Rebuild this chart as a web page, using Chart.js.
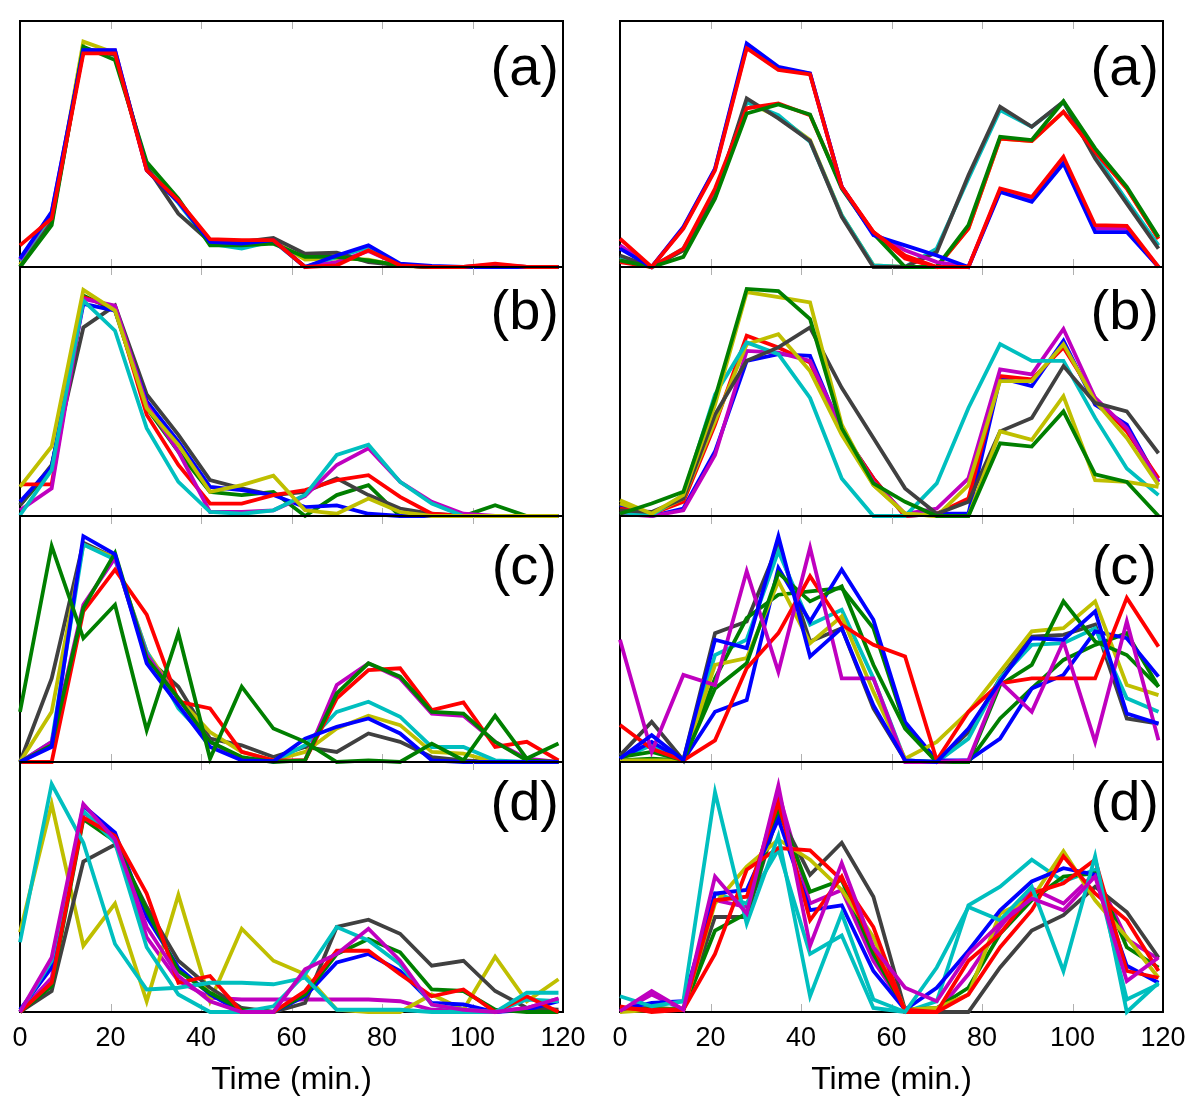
<!DOCTYPE html>
<html>
<head>
<meta charset="utf-8">
<script src="https://cdn.jsdelivr.net/npm/chart.js@4.4.1/dist/chart.umd.min.js"></script>
<style>
  html, body { margin: 0; padding: 0; background: #fff; }
  #fig { position: relative; width: 1200px; height: 1114px; overflow: hidden; }
  #fig canvas { position: absolute; }
  .tag { position: absolute; font: 56px/56px "Liberation Sans", Arial, sans-serif; color: #000; text-align: right; }
</style>
</head>
<body>
<div id="fig">
  <canvas id="aL" width="600" height="254" style="left:0;top:17px"></canvas>
  <canvas id="aR" width="600" height="254" style="left:600px;top:17px"></canvas>
  <canvas id="bL" width="600" height="257" style="left:0;top:263px"></canvas>
  <canvas id="bR" width="600" height="257" style="left:600px;top:263px"></canvas>
  <canvas id="cL" width="600" height="254" style="left:0;top:512px"></canvas>
  <canvas id="cR" width="600" height="254" style="left:600px;top:512px"></canvas>
  <canvas id="dL" width="600" height="349" style="left:0;top:758px"></canvas>
  <canvas id="dR" width="600" height="349" style="left:600px;top:758px"></canvas>
  <div class="tag" style="right:641px;top:38px">(a)</div>
  <div class="tag" style="right:41px;top:38px">(a)</div>
  <div class="tag" style="right:641px;top:282px">(b)</div>
  <div class="tag" style="right:41px;top:282px">(b)</div>
  <div class="tag" style="right:643px;top:537px">(c)</div>
  <div class="tag" style="right:43px;top:537px">(c)</div>
  <div class="tag" style="right:641px;top:773px">(d)</div>
  <div class="tag" style="right:41px;top:773px">(d)</div>
</div>
<script>
// sampling times (min.)
const times = [0, 7, 14, 21, 28, 35, 42, 49, 56, 63, 70, 77, 84, 91, 98, 105, 112, 119];
const xTicks = [0, 20, 40, 60, 80, 100, 120];

// (a) left
const aL_red     = [8.8, 19.7, 86.8, 86.8, 39.3, 27.1, 11.3, 10.9, 10.9, 0, 0.7, 6.8, 0.7, 0, 0, 1.4, 0, 0];
const aL_blue    = [3.4, 22.4, 88.2, 88.2, 39.3, 26.5, 10.2, 9.5, 10.9, 0, 4.7, 8.8, 1.4, 0.4, 0, 0, 0, 0];
const aL_green   = [0, 17, 89.6, 84.1, 42.7, 27.8, 8.8, 8.8, 9.5, 4.1, 4.1, 2.7, 0.7, 0, 0, 0, 0, 0];
const aL_gray    = [0, 18.3, 88.9, 86.1, 40.7, 21.7, 10.2, 10.2, 11.8, 5.4, 5.8, 2, 0.7, 0, 0, 0, 0, 0];
const aL_magenta = [3, 22, 88, 88, 39.5, 26.5, 10.5, 10.5, 11, 0, 2, 6.5, 0.7, 0, 0, 1, 0, 0];
const aL_cyan    = [2.5, 21, 88, 87, 40, 26, 9.5, 7.5, 10.5, 0, 4, 8, 1, 0, 0, 0.5, 0, 0];
const aL_yellow  = [1, 19, 91.6, 87, 41, 27, 10.5, 10, 10.5, 3, 3.5, 3, 0.5, 0, 0, 0.7, 0, 0];

// (a) right
const aR_red     = [11.5, 0, 15.6, 39.3, 88.9, 80.1, 78.3, 32.6, 14.2, 4.7, 0, 0, 31.9, 28.5, 44.8, 17, 16.7, 0];
const aR_blue    = [7.5, 0, 16.3, 40, 90.9, 81.4, 78.7, 32.6, 12.9, 8.8, 4.7, 0, 30.5, 26.5, 42.1, 14.2, 14.2, 0];
const aR_magenta = [8.8, 0, 15.9, 39.8, 89.6, 80.7, 78.6, 32.6, 13.6, 6.8, 2, 0, 31.2, 27.8, 43.4, 15.6, 15.6, 0];
const aR_green   = [2.7, 0, 4.1, 27.8, 62.4, 66.1, 62, 31.9, 13.6, 0, 0, 17, 52.9, 51.6, 67.4, 48.2, 32.6, 12.2];
const aR_red2    = [2, 0, 7.5, 31.9, 64.5, 66.5, 61.7, 32.6, 14.2, 3.4, 0, 15.6, 52.2, 51.2, 63.1, 46.8, 31.9, 11.5];
const aR_gray    = [4.7, 0, 6.8, 28.5, 68.5, 60.4, 51.2, 20.4, 0, 0, 6.1, 37.3, 65.1, 57, 67.2, 44.1, 25.8, 7.5];
const aR_cyan    = [4, 0, 7.5, 29, 67, 61.7, 50.9, 21, 0.7, 0, 7.5, 36, 63.8, 57, 67, 45.5, 27, 8.8];
const aR_yellow  = [3.4, 0, 6.8, 28.5, 67.2, 61, 51.6, 21, 0.7, 0, 0, 15.6, 52.2, 51.2, 63.1, 46.8, 31.9, 11.5];

// (b) left
const bL_yellow  = [11.7, 27.9, 90.8, 82.5, 43.4, 28.6, 9.7, 12.4, 16.2, 2.3, 0.9, 7, 1.6, 0, 0, 0, 0, 0];
const bL_cyan    = [0.3, 18.5, 86.5, 74.4, 35.3, 13.7, 1.6, 0.9, 2.3, 8.4, 24.5, 28.6, 13.7, 5, 0, 0, 0, 0];
const bL_magenta = [2.3, 11.1, 87.2, 84.5, 44.7, 25.9, 1.6, 1.6, 2.3, 8, 20.5, 27.2, 13.7, 5.7, 0.9, 0, 0, 0];
const bL_red     = [12.7, 12.7, 87.9, 83.8, 40.7, 20.5, 5, 5, 8.4, 10.4, 14.4, 16.4, 7.7, 0.9, 0, 0, 0, 0];
const bL_blue    = [5.7, 19.8, 85.2, 82.5, 46.1, 29.9, 11.7, 10.4, 8.4, 3.6, 4.3, 0.9, 0, 0, 0, 0, 0, 0];
const bL_gray    = [4.3, 20.5, 75.7, 84.5, 48.8, 32.6, 14.4, 11.1, 8.4, 9.7, 15.1, 8.4, 3, 0.9, 0, 0, 0, 0];
const bL_green   = [4.3, 19.1, 88.5, 82.5, 43.4, 25.9, 9.7, 8.4, 9.7, 0, 8.4, 12.4, 0, 0, 0, 4.3, 0, 0];

// (b) right
const bR_green   = [0.9, 5, 9.7, 47.4, 91.2, 90.3, 79.1, 35.3, 13.1, 5.7, 0, 0, 29.2, 27.9, 42, 16.7, 13.7, 0];
const bR_yellow  = [6.3, 0.9, 8.4, 44.7, 89.9, 87.9, 85.8, 36.7, 12.4, 0.9, 0, 0, 34, 30.6, 48.1, 14.4, 13.7, 11.7];
const bR_gray    = [2.3, 1.6, 7, 40.7, 62.3, 67.7, 75.7, 51.5, 31.3, 11.1, 0.9, 5.7, 34, 39.4, 60.2, 45.4, 42, 25.2];
const bR_cyan    = [1.6, 0.3, 8.4, 48.8, 69.7, 65, 47.4, 15.1, 0, 0, 13.1, 43.4, 69, 62.3, 62.3, 39.4, 19.1, 8.4];
const bR_yellow2 = [5, 0.9, 7, 38, 69, 73, 58.2, 32.6, 12.4, 0.9, 0, 12.4, 54.2, 54.2, 69, 46.1, 31.3, 12.4];
const bR_magenta = [0.9, 0, 2.3, 24.5, 66.3, 65.6, 62.3, 35.3, 13.7, 0.9, 3, 15.1, 58.9, 56.9, 75.1, 47.4, 35.3, 13.7];
const bR_red     = [3, 0.9, 5.7, 36.7, 72.4, 67.7, 61.6, 34, 15.1, 0, 0.9, 7, 56.2, 54.9, 67.7, 47.4, 34, 15.1];
const bR_blue    = [4.3, 0, 3, 25.9, 62.3, 65, 64.3, 34, 15.1, 0, 0.9, 0.9, 55.5, 52.2, 70.4, 44.7, 36.7, 13.7];

// (c) left
const cL_green   = [20.4, 87.8, 50.3, 63.9, 12.9, 52.4, 1.4, 30.6, 13.6, 8.2, 0, 0.7, 0, 7.5, 0.7, 18.8, 1.4, 7.5];
const cL_blue    = [0, 6.1, 91.8, 84.4, 40.1, 23.1, 6.1, 0.7, 0.3, 9.5, 14.3, 17.7, 11.6, 0.7, 0, 0, 0, 0];
const cL_green2  = [0, 6.8, 62.6, 85, 42.2, 25.9, 8.2, 2, 0, 0.7, 27.9, 40.1, 34.7, 20.4, 19.7, 8.2, 0.7, 0];
const cL_red     = [0, 0, 61.2, 78.2, 59.9, 24.5, 21.8, 4.1, 0.7, 0.7, 25.9, 37.4, 38.1, 21.1, 24.2, 6.1, 8.2, 0.7];
const cL_magenta = [0, 8.2, 63.9, 83, 43.5, 25.9, 8.2, 1.4, 0.3, 0.7, 31.3, 40.1, 34, 19.7, 18.8, 8.2, 1.4, 0];
const cL_cyan    = [0, 8.2, 88.4, 82.3, 44.9, 21.8, 8.2, 1.4, 0.3, 6.8, 20.4, 24.5, 18.4, 6.1, 6.1, 0.7, 0, 0];
const cL_yellow  = [0, 20.4, 88.4, 83, 44.9, 25.9, 12.2, 4.1, 0.7, 4.1, 13.6, 18.8, 15, 4.1, 3.4, 0, 0, 0];
const cL_gray    = [0, 34, 89.1, 83, 42.2, 30.6, 9.5, 6.8, 2, 6.1, 4.1, 11.6, 8.2, 2, 0.7, 0, 0, 0];

// (c) right
const cR_blue    = [1.4, 10.9, 0.7, 49.7, 46.3, 91.8, 42.9, 54.4, 23.1, 0.7, 0, 13.6, 32.7, 50.3, 49.7, 61.2, 19.7, 15.6];
const cR_magenta = [49.7, 4.1, 35.4, 31.3, 77.6, 36.7, 87.1, 34, 34, 0, 0, 0.7, 32.7, 20.4, 49, 8.2, 57.1, 8.8];
const cR_red     = [15, 5.4, 0.7, 8.8, 38.1, 52.4, 75.5, 55.8, 47.6, 42.9, 0.7, 20.4, 32, 34, 34, 34, 66.7, 46.9];
const cR_green   = [2, 4.1, 0.7, 29.9, 40.1, 76.9, 65.3, 71.4, 39.5, 13.6, 0, 0, 31.3, 39.5, 65.3, 49, 43.5, 30.6];
const cR_yellow  = [0.7, 0.7, 0.7, 39.5, 42.2, 73.5, 48.3, 59.2, 28.6, 1.4, 8.2, 20.4, 36.7, 53.1, 54.4, 65.3, 31.3, 27.2];
const cR_blue2   = [1.4, 8.2, 0.7, 20.4, 25.2, 78.9, 57.1, 78.2, 57.8, 16.3, 0.7, 0.7, 9.5, 29.9, 35.4, 53.1, 50.3, 34.7];
const cR_green2  = [0.7, 1.4, 0.7, 34, 58.5, 68, 69.4, 70.7, 54.4, 15, 0, 0, 17.7, 29.9, 41.5, 47.6, 52.4, 30.6];
const cR_cyan    = [1.4, 6.8, 0.7, 43.5, 49.7, 85.7, 55.8, 61.9, 34, 0.7, 0, 9.5, 34, 47.6, 48.3, 54.4, 25.9, 20.4];
const cR_gray    = [2.7, 16.3, 0.7, 52.4, 57.1, 88.4, 49, 54.4, 21.8, 0.7, 0, 12.2, 34, 51, 51.7, 55.8, 17.7, 15.6];

// (d) left
const dL_magenta  = [0, 21.8, 83.2, 69, 34, 14.4, 4.3, 0, 0, 17.1, 23.2, 33.3, 20.5, 3, 0.9, 0, 1.6, 5.4];
const dL_cyan     = [27.9, 91.2, 67.7, 27.2, 9, 9.7, 11.7, 11.7, 11.1, 13.7, 0.9, 0.9, 0.9, 0, 0, 0, 7.7, 7.7];
const dL_red      = [0, 11.7, 77.8, 70.4, 47.4, 11.7, 14.4, 0, 0, 8.4, 24.5, 24.5, 15.1, 6.3, 9, 0, 6.3, 0];
const dL_cyan2    = [0, 20.5, 80.5, 67.7, 25.9, 7, 0, 0, 2.3, 15.1, 34, 28.6, 19.1, 3, 0.9, 0, 5, 4.3];
const dL_green    = [0, 10.4, 77.1, 68.3, 40.7, 16.4, 7.7, 0.9, 0, 7, 23.2, 29.2, 23.9, 9, 8.4, 0.9, 0, 0];
const dL_blue     = [0.9, 17.8, 82.5, 71.7, 38, 17.8, 7, 0, 0, 6.3, 19.8, 23.2, 16.4, 3.6, 3, 0, 0.9, 4.3];
const dL_gray     = [0, 8.4, 60.2, 67, 42, 20.5, 9.7, 1.6, 0, 3.6, 34, 36.9, 31.3, 18.5, 20.5, 8.4, 1.6, 0.9];
const dL_yellow   = [31.9, 83.2, 26.5, 43.4, 4.3, 46.8, 4.3, 33.3, 20.5, 15.1, 0.9, 0, 0, 7, 0.9, 22.1, 4.3, 13.1];
const dL_magenta2 = [0, 13.7, 79.8, 70.4, 29.9, 12.4, 5.7, 5, 5, 5, 5, 5, 4.3, 0.9, 0.9, 0, 1.6, 5.4];

// (d) right
const dR_magenta  = [0.3, 8.4, 0.9, 54.2, 39.4, 90.6, 26.5, 59.6, 25.9, 9.7, 4.3, 23.2, 35.3, 45.4, 40.7, 54.2, 12.4, 21.8];
const dR_cyan     = [6.3, 2.3, 4.3, 87.9, 35.3, 70.4, 6.3, 39.4, 5, 0, 17.8, 42, 36.7, 50.1, 16.4, 62.3, 0, 11.7];
const dR_red      = [2.3, 0, 0.9, 23.2, 56.9, 65.6, 64.7, 52.8, 34, 0, 0, 7, 25.9, 40.7, 62.3, 47.4, 36.7, 16.4];
const dR_red2     = [1.6, 0.9, 0.9, 44.7, 46.1, 83.8, 36.7, 54.2, 25.9, 0.9, 0, 20.5, 31.3, 47.4, 51.5, 60.9, 16.4, 13.7];
const dR_blue     = [0.9, 3.6, 4.3, 47.4, 48.8, 77.1, 40.7, 42.7, 16.4, 0.9, 9.7, 24.5, 40.7, 52.2, 57.5, 54.9, 18.5, 11.7];
const dR_yellow   = [0, 0.9, 0.9, 43.4, 58.2, 69, 60.9, 48.8, 29.9, 0.9, 1.6, 7, 39.4, 45.4, 64.3, 44.7, 29.9, 13.7];
const dR_green    = [0.3, 1.6, 0.9, 32.6, 39.4, 81.1, 48.1, 52.8, 23.2, 0.9, 1.6, 9.7, 31.3, 44.7, 54.2, 55.5, 25.9, 17.8];
const dR_gray     = [0.9, 1.6, 0.9, 38, 38, 79.8, 54.9, 67.7, 46.1, 0.9, 0, 0, 17.8, 32.6, 38.7, 50.1, 40, 21.8];
const dR_cyan2    = [0.9, 0.9, 1.6, 47.4, 43.4, 65, 23.2, 30.6, 1.6, 0, 4.3, 42.7, 50.1, 60.9, 52.2, 56.9, 5, 11.1];
const dR_magenta2 = [0, 7, 0.9, 44.7, 42, 87.9, 43.4, 48.8, 20.5, 1.6, 0, 15.1, 34, 49.5, 43.4, 55.5, 29.2, 21.2];

const C = { b: '#0000ff', r: '#ff0000', g: '#007f00', k: '#404040', c: '#00bfbf', m: '#bf00bf', y: '#bfbf00' };
const FONT = '"Liberation Sans", Arial, sans-serif';

// frame + inward ticks, like the original axes box
const framePlugin = {
  id: 'frame',
  beforeDatasetsDraw(chart) {
    const { ctx, chartArea: a, scales: { x } } = chart;
    ctx.save();
    ctx.strokeStyle = '#b0b0b0';
    ctx.lineWidth = 1;
    [20, 40, 60, 80, 100].forEach(v => {
      const px = Math.round(x.getPixelForValue(v)) + 0.5;
      ctx.beginPath();
      ctx.moveTo(px, a.top); ctx.lineTo(px, a.top + 8);
      ctx.moveTo(px, a.bottom); ctx.lineTo(px, a.bottom - 8);
      ctx.stroke();
    });
    ctx.strokeStyle = '#000';
    ctx.lineWidth = 2;
    ctx.strokeRect(a.left, a.top, a.right - a.left, a.bottom - a.top);
    ctx.restore();
  }
};

function makePanel(id, series, withAxis) {
  // first series in the list ends up on top
  const datasets = series.map(([color, vals]) => ({
    data: times.map((t, i) => ({ x: t, y: vals[i] })),
    borderColor: color,
    borderWidth: 3.8,
    pointRadius: 0,
    tension: 0,
    fill: false,
    clip: false
  }));
  return new Chart(document.getElementById(id), {
    type: 'line',
    data: { datasets },
    options: {
      responsive: false,
      animation: false,
      devicePixelRatio: 1,
      layout: { padding: { left: 20, right: 37, top: 4, bottom: withAxis ? 0 : 4 } },
      plugins: { legend: { display: false }, tooltip: { enabled: false } },
      scales: {
        x: {
          type: 'linear', min: 0, max: 120,
          display: withAxis,
          afterBuildTicks: s => { s.ticks = xTicks.map(v => ({ value: v })); },
          afterFit: s => {
            if (!withAxis) return;
            s.height = 95; s.paddingLeft = 0; s.paddingRight = 0;
          },
          grid: { display: false, drawTicks: false },
          border: { display: false },
          ticks: { color: '#000', font: { family: FONT, size: 27 }, padding: 10, maxRotation: 0, autoSkip: false },
          title: { display: true, text: 'Time (min.)', color: '#000', font: { family: FONT, size: 32 }, padding: { top: 0, bottom: 8 } }
        },
        y: { min: 0, max: 100, display: false }
      }
    },
    plugins: [framePlugin]
  });
}

makePanel('aL', [[C.r, aL_red], [C.b, aL_blue], [C.g, aL_green], [C.k, aL_gray], [C.m, aL_magenta], [C.c, aL_cyan], [C.y, aL_yellow]], false);
makePanel('aR', [[C.r, aR_red], [C.b, aR_blue], [C.m, aR_magenta], [C.g, aR_green], [C.r, aR_red2], [C.k, aR_gray], [C.c, aR_cyan], [C.y, aR_yellow]], false);
makePanel('bL', [[C.y, bL_yellow], [C.c, bL_cyan], [C.m, bL_magenta], [C.r, bL_red], [C.b, bL_blue], [C.k, bL_gray], [C.g, bL_green]], false);
makePanel('bR', [[C.g, bR_green], [C.y, bR_yellow], [C.k, bR_gray], [C.c, bR_cyan], [C.y, bR_yellow2], [C.m, bR_magenta], [C.r, bR_red], [C.b, bR_blue]], false);
makePanel('cL', [[C.g, cL_green], [C.b, cL_blue], [C.g, cL_green2], [C.r, cL_red], [C.m, cL_magenta], [C.c, cL_cyan], [C.y, cL_yellow], [C.k, cL_gray]], false);
makePanel('cR', [[C.b, cR_blue], [C.m, cR_magenta], [C.r, cR_red], [C.g, cR_green], [C.y, cR_yellow], [C.b, cR_blue2], [C.g, cR_green2], [C.c, cR_cyan], [C.k, cR_gray]], false);
makePanel('dL', [[C.m, dL_magenta], [C.c, dL_cyan], [C.r, dL_red], [C.c, dL_cyan2], [C.g, dL_green], [C.b, dL_blue], [C.k, dL_gray], [C.y, dL_yellow], [C.m, dL_magenta2]], true);
makePanel('dR', [[C.m, dR_magenta], [C.c, dR_cyan], [C.r, dR_red], [C.r, dR_red2], [C.b, dR_blue], [C.y, dR_yellow], [C.g, dR_green], [C.k, dR_gray], [C.c, dR_cyan2], [C.m, dR_magenta2]], true);
</script>
</body>
</html>
